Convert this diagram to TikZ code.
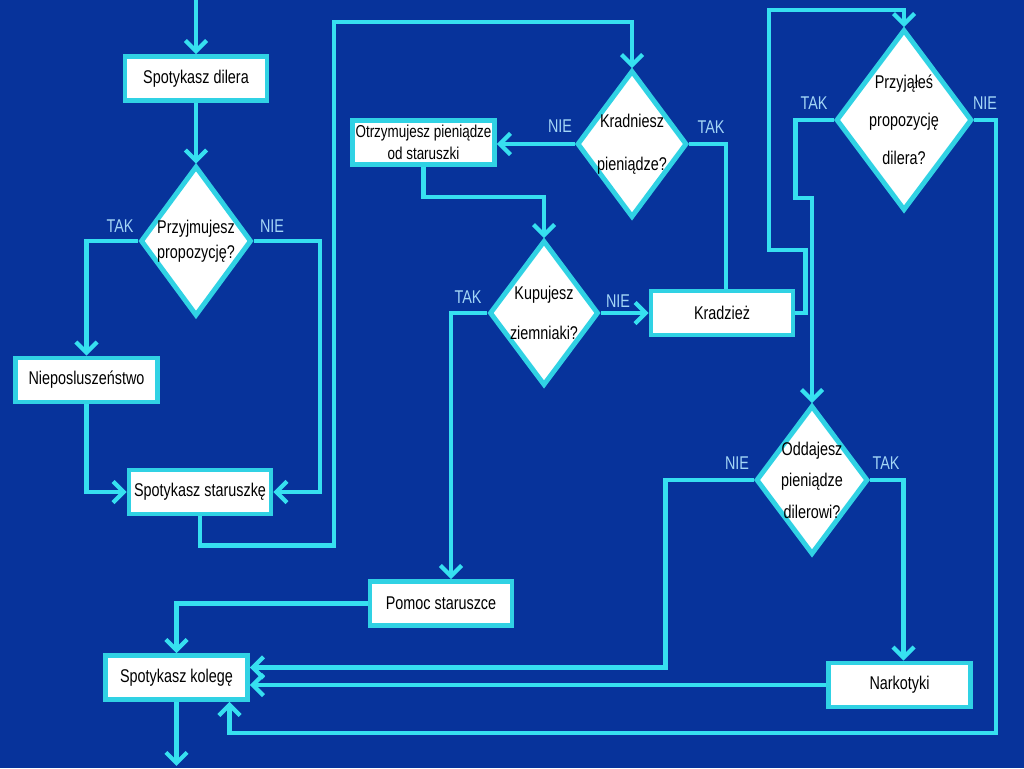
\documentclass[tikz,border=0pt]{standalone}
\usepackage{fontspec}
\setmainfont{Liberation Sans}[FakeStretch=0.78]
\usetikzlibrary{positioning, arrows.meta, calc, shapes.geometric}
\definecolor{figbg}{HTML}{07339B}
\definecolor{figline}{HTML}{36E0F0}
\definecolor{figedge}{HTML}{30D2E4}
\definecolor{figlbl}{HTML}{A4D6F6}

\begin{document}
\begin{tikzpicture}[
  x=0.02cm, y=-0.02cm,
  line width=2.4pt, line join=miter,
  >={Straight Barb[length=6pt,width=12pt]},
  box/.style = {draw=figedge, line width=2.8pt, fill=white, rectangle,
                minimum width=2.84cm, minimum height=0.88cm, inner sep=1pt,
                anchor=center, font=\fontsize{10.5}{12.6}\selectfont},
  dec/.style = {draw=figedge, line width=2.8pt, fill=white, diamond,
                inner sep=0pt, anchor=center},
  dtxt/.style = {align=center, inner sep=0pt, font=\fontsize{10.5}{12.6}\selectfont},
  lbl/.style = {font=\fontsize{10.5}{12.6}\selectfont, text=figlbl, inner sep=1pt},
  flow/.style = {draw=figline, line width=2.4pt}
]

\fill[figbg] (0,0) rectangle (1024,768);
\useasboundingbox (0,0) rectangle (1024,768);

% lewa kolumna
\node[box] (dil) at (196,78.5) {Spotykasz dilera};
\node[dec, minimum width=2.22cm, minimum height=3.0cm,
      label={[dtxt]center:{Przyjmujesz\\[1.6pt]propozycję?}}] (q1) at (196,241) {};
\node[box] (niep) at (86.5,380) {Nieposluszeństwo};
\node[box] (star) at (200,492) {Spotykasz staruszkę};

% srodek
\node[dec, minimum width=2.2cm, minimum height=2.94cm,
      label={[dtxt]center:{Kradniesz\\[11.8pt]pieniądze?}}] (q2) at (632,144) {};
\node[box, align=center, font=\fontsize{9.8}{11.8}\selectfont] (otrz) at (423.5,142.5)
      {Otrzymujesz pieniądze\\[1pt]od staruszki};
\node[dec, minimum width=2.18cm, minimum height=2.9cm,
      label={[dtxt]center:{Kupujesz\\[10.6pt]ziemniaki?}}] (q3) at (544,313) {};
\node[box] (kradz) at (722,313) {Kradzież};
\node[box] (pom) at (441,603.5) {Pomoc staruszce};
\node[box] (kol) at (176.5,677.5) {Spotykasz kolegę};

% prawa kolumna
\node[dec, minimum width=2.72cm, minimum height=3.62cm,
      label={[dtxt]center:{Przyjąłeś\\[8.9pt]propozycję\\[8.9pt]dilera?}}] (q4) at (904,120) {};
\node[dec, minimum width=2.24cm, minimum height=2.98cm,
      label={[dtxt]center:{Oddajesz\\[5.3pt]pieniądze\\[5.3pt]dilerowi?}}] (q5) at (812,480) {};
\node[box] (nark) at (899.5,685) {Narkotyki};

% TAK / NIE
\node[lbl] (t1) at (120,226) {TAK};
\node[lbl] (n1) at (272,226) {NIE};
\node[lbl] (n2) at (560,126) {NIE};
\node[lbl] (t2) at (711,127) {TAK};
\node[lbl] (t3) at (468,297) {TAK};
\node[lbl] (n3) at (618,301) {NIE};
\node[lbl] (t4) at (814,103) {TAK};
\node[lbl] (n4) at (985,103) {NIE};
\node[lbl] (n5) at (737,463) {NIE};
\node[lbl] (t5) at (886,463) {TAK};

\coordinate (top) at (196,0);
\coordinate (c1) at (334,22);
\coordinate (c2) at (769,10);
\coordinate (c3) at (996,733);

% polaczenia
\draw[flow, ->] (top) -- (dil.north);
\draw[flow, ->] (dil.south) -- (q1.north);
\draw[flow, ->] (q1.west) -| (niep.north);
\draw[flow, ->] (niep.south) |- (star.west);
\draw[flow, ->] (q1.east) -- ++(66,0) |- (star.east);
\draw[flow, ->] (star.south) -- ++(0,29) -| (c1) -| (q2.north);
\draw[flow, ->] (q2.west) -- (q2.west -| otrz.east);
\draw[flow, ->] (otrz.south) -- ++(0,30) -| (q3.north);
\draw[flow, ->] (q3.east) -- (kradz.west);
\draw[flow, ->] (q3.west) -| ($(pom.north)+(10,0)$);
\draw[flow] (q2.east) -| ($(kradz.north)+(4,0)$);
\draw[flow, ->] (kradz.east) -- ++(10,0) -- ++(0,-63) -| (c2) -| (q4.north);
\draw[flow, ->] (q4.west) -- ++(-38,0) -- ++(0,78) -| (q5.north);
\draw[flow, ->] (q4.east) -| (c3) -| ($(kol.south)+(53,0)$);
\draw[flow, ->] (q5.west) -- ++(-88,0) |- ($(kol.east)+(0,-10)$);
\draw[flow, ->] (q5.east) -| ($(nark.north)+(4,0)$);
\draw[flow, ->] (nark.west) -- (nark.west -| kol.east);
\draw[flow, ->] (pom.west) -| (kol.north);
\draw[flow, ->] (kol.south) -- ++(0,64);

\end{tikzpicture}
\end{document}
